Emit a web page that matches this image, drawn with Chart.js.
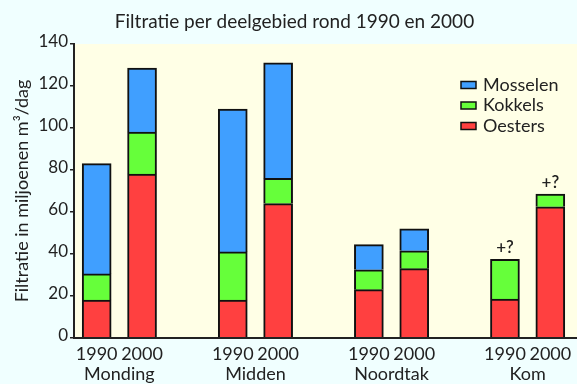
<!DOCTYPE html>
<html>
<head>
<meta charset="utf-8">
<script src="https://cdn.jsdelivr.net/npm/chart.js@4/dist/chart.umd.min.js"></script>
<style>
  html, body { margin: 0; padding: 0; background: #F0FFFF; }
  #wrap { width: 577px; height: 384px; }
</style>
</head>
<body>
<div id="wrap"><canvas id="c" width="577" height="384"></canvas></div>
<script>
// Filtration per sub-area, 1990 vs 2000 (million m3 per day)
const regions  = ['Monding', 'Midden', 'Noordtak', 'Kom'];
const years    = ['1990', '2000'];
const oesters  = [18, 78, 18, 64, 23, 33, 18.5, 62.5];
const kokkels  = [12.5, 20, 23, 12, 9.5, 8.5, 19, 6];
const mosselen = [52.5, 30.5, 68, 55, 12, 10.5, null, null];
const notes    = ['', '', '', '', '', '', '+?', '+?'];
const yTicks   = [0, 20, 40, 60, 80, 100, 120, 140];

const FONT = 'Lato';
const INK = '#222';

// Each region gets one slot per year, with an empty slot between regions
function toSlots(values, blank) {
  const out = [];
  regions.forEach((r, i) => {
    if (i > 0) out.push(blank);
    years.forEach((y, j) => out.push(values[i * years.length + j]));
  });
  return out;
}
const slotLabels = toSlots(regions.flatMap(() => years), '');
const slotNotes = toSlots(notes, '');
const groupCenters = regions.map((r, i) => i * (years.length + 1) + (years.length - 1) / 2);

const barStyle = { borderColor: '#111', borderWidth: 2, barThickness: 29 };

const plotBackground = {
  id: 'plotBackground',
  beforeDraw(chart) {
    const { ctx, chartArea: a } = chart;
    ctx.save();
    ctx.fillStyle = '#FFFFE6';
    ctx.fillRect(a.left, a.top, chart.width - a.left, a.bottom - a.top);
    ctx.restore();
  },
  afterDatasetsDraw(chart) {
    const { ctx, chartArea: a } = chart;
    ctx.save();
    // baseline runs out to the right edge
    ctx.strokeStyle = INK;
    ctx.lineWidth = 2;
    ctx.beginPath();
    ctx.moveTo(a.left - 1, a.bottom);
    ctx.lineTo(chart.width, a.bottom);
    ctx.stroke();
    // "+?" notes above the top segment of each bar
    ctx.fillStyle = INK;
    ctx.font = '600 17px "' + FONT + '"';
    ctx.textAlign = 'center';
    ctx.textBaseline = 'middle';
    slotNotes.forEach((txt, i) => {
      if (!txt) return;
      let topY = null, x = null;
      chart.data.datasets.forEach((ds, d) => {
        const el = chart.getDatasetMeta(d).data[i];
        if (ds.data[i] != null && el) {
          if (topY === null || el.y < topY) { topY = el.y; x = el.x; }
        }
      });
      if (topY !== null) ctx.fillText(txt, x, topY - 12);
    });
    ctx.restore();
  }
};

const insideLegend = {
  id: 'insideLegend',
  afterDraw(chart) {
    const { ctx, chartArea: a } = chart;
    const items = chart.data.datasets.slice().reverse();
    ctx.save();
    ctx.font = '18px "' + FONT + '"';
    ctx.textBaseline = 'middle';
    ctx.textAlign = 'left';
    items.forEach((ds, i) => {
      const cy = a.top + 41 + i * 20.5;
      const bx = a.right - 112;
      ctx.fillStyle = ds.backgroundColor;
      ctx.fillRect(bx, cy - 3.5, 15, 7);
      ctx.strokeStyle = '#111';
      ctx.lineWidth = 1.5;
      ctx.strokeRect(bx, cy - 3.5, 15, 7);
      ctx.fillStyle = INK;
      ctx.fillText(ds.label, bx + 22, cy);
    });
    ctx.restore();
  }
};

new Chart(document.getElementById('c'), {
  type: 'bar',
  data: {
    labels: slotLabels,
    datasets: [
      Object.assign({ label: 'Oesters',  data: toSlots(oesters, null),  backgroundColor: '#FF4040' }, barStyle),
      Object.assign({ label: 'Kokkels',  data: toSlots(kokkels, null),  backgroundColor: '#66FF3A' }, barStyle),
      Object.assign({ label: 'Mosselen', data: toSlots(mosselen, null), backgroundColor: '#409FFF' }, barStyle)
    ]
  },
  options: {
    responsive: false,
    animation: false,
    layout: { padding: { left: 16, right: 4, top: 0, bottom: 0 } },
    plugins: {
      legend: { display: false },
      tooltip: { enabled: false },
      title: {
        display: true,
        text: 'Filtratie per deelgebied rond 1990 en 2000',
        color: INK,
        font: { family: FONT, size: 19, weight: 'normal', lineHeight: 1.2 },
        padding: { top: 10, bottom: 11.2 }
      }
    },
    scales: {
      x: {
        stacked: true,
        weight: 0,
        afterFit(scale) { scale.height = 25; },
        grid: { display: false, drawTicks: false },
        border: { display: true, color: INK, width: 2 },
        ticks: { color: INK, font: { family: FONT, size: 18 }, padding: 5, autoSkip: false, maxRotation: 0 }
      },
      x2: {
        type: 'linear',
        position: 'bottom',
        weight: 1,
        offset: false,
        min: -0.5,
        max: slotLabels.length - 0.5,
        afterFit(scale) { scale.height = 21; },
        afterBuildTicks(scale) { scale.ticks = groupCenters.map(v => ({ value: v })); },
        grid: { display: false, drawTicks: false },
        border: { display: false },
        ticks: {
          color: INK, font: { family: FONT, size: 18 }, padding: 0, autoSkip: false, maxRotation: 0,
          callback(v) { return regions[groupCenters.indexOf(v)]; }
        }
      },
      y: {
        stacked: true,
        min: 0,
        max: 140,
        afterBuildTicks(scale) { scale.ticks = yTicks.map(v => ({ value: v })); },
        afterFit(scale) { scale.width = 58; },
        grid: { display: true, drawOnChartArea: false, drawTicks: true, tickLength: 4, color: INK, lineWidth: 1.5 },
        border: { display: true, color: INK, width: 2 },
        ticks: { color: INK, font: { family: FONT, size: 17 }, padding: 2, labelOffset: -2 },
        title: {
          display: true,
          text: 'Filtratie in miljoenen m³/dag',
          color: INK,
          font: { family: FONT, size: 18 },
          padding: { top: -5, bottom: 0 }
        }
      }
    }
  },
  plugins: [plotBackground, insideLegend]
});
</script>
</body>
</html>
